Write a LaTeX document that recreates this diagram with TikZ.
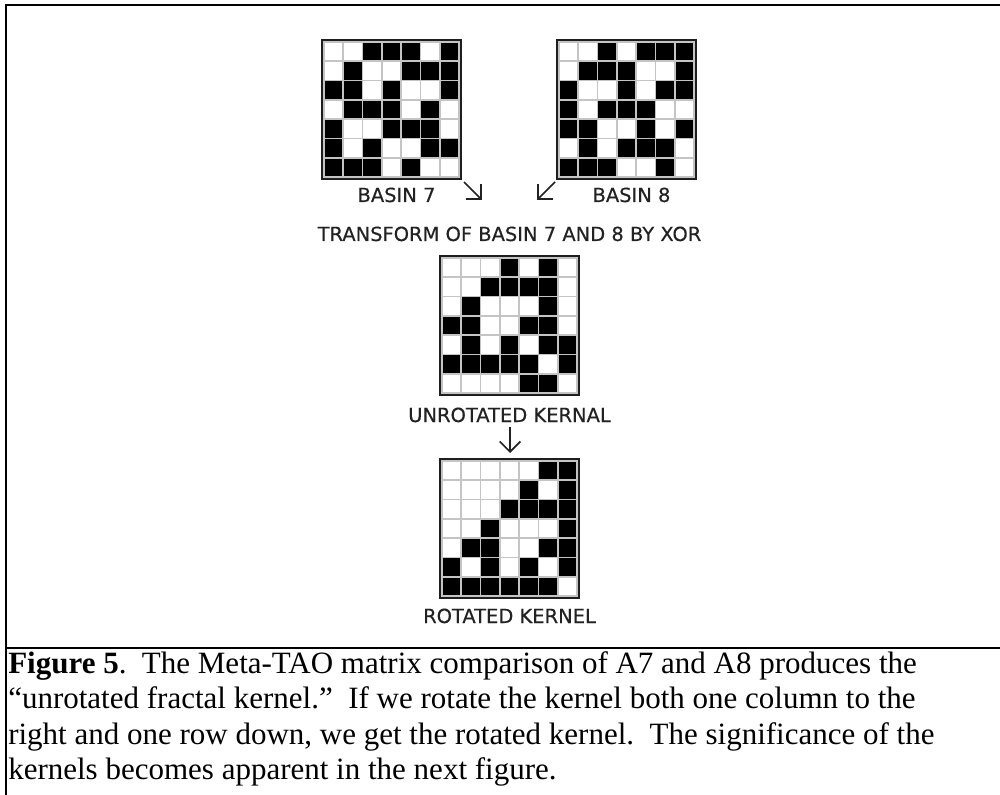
\documentclass[tikz,border=0pt]{standalone}
\usepackage{fontspec}
\setmainfont{Liberation Serif}
\newfontfamily\labelfont[FakeBold=0.4]{DejaVu Sans}
\usetikzlibrary{arrows.meta}
\definecolor{cellline}{HTML}{C4C4C4}
\definecolor{labelgray}{HTML}{222222}
\definecolor{framegray}{HTML}{1E1E1E}
\def\cellsz{19.2857}
\tikzset{
  thickrule/.style={line width=1.6pt},
  thinrule/.style={line width=0.9pt},
  gridline/.style={draw=cellline, line width=1.3pt},
  gridframe/.style={draw=framegray, line width=1.6pt},
  gridnode/.style={inner sep=0pt, minimum width=101.25pt, minimum height=101.25pt, anchor=north west},
  lbl/.style={font=\labelfont\fontsize{14.6}{17}\selectfont, text=labelgray, inner sep=0pt, anchor=base},
  captext/.style={font=\fontsize{23.25}{26.6}\selectfont, inner sep=0pt, anchor=base west},
  glypharrow/.style={line width=1.3pt, draw=labelgray, -{Straight Barb[angle=90:11pt, line width=1.3pt]}}
}
\newcommand\kgrid[3]{%
  \node[gridnode] (#1) at (#2) {};
  \begin{scope}[shift={(#2)}]
    \foreach \r [count=\i] in {#3} {
      \foreach \c [count=\j] in \r {
        \ifnum\c=1\relax
          \fill[black] ({(\j-1)*\cellsz},{(\i-1)*\cellsz}) rectangle ++(\cellsz,\cellsz);
        \fi
      }
    }
    \foreach \k in {1,...,6} {
      \draw[gridline] ({\k*\cellsz},0) -- ({\k*\cellsz},135);
      \draw[gridline] (0,{\k*\cellsz}) -- (135,{\k*\cellsz});
    }
    \draw[gridline] (0,0) rectangle (135,135);
    \draw[gridframe] (-1.6,-1.6) rectangle (136.6,136.6);
  \end{scope}
}
\begin{document}
\begin{tikzpicture}[x=0.75pt,y=-0.75pt]
\useasboundingbox (0,0) rectangle (1000,795);
\fill[white] (0,0) rectangle (1000,795);
% outer frame
\draw[thickrule] (6,795) -- (6,5) -- (296,5);
\draw[thinrule] (296,5) -- (723,5);
\draw[thickrule] (723,5) -- (1000,5);
\draw[thickrule] (6,648) -- (296,648);
\draw[thinrule] (296,648) -- (723,648);
\draw[thickrule] (723,648) -- (1000,648);
% grids
\kgrid{g7}{324,42}{{0,0,1,1,1,0,1},{0,1,0,0,1,1,1},{1,1,0,1,0,0,1},{0,1,1,1,0,1,0},{1,0,0,1,1,1,0},{1,0,1,0,0,1,1},{1,1,1,0,1,0,0}}
\kgrid{g8}{559,42}{{0,0,1,0,1,1,1},{0,1,1,1,0,0,1},{1,0,0,1,0,1,1},{1,0,1,1,1,0,0},{1,1,0,0,1,0,1},{0,1,0,1,1,1,0},{1,1,1,0,0,1,0}}
\kgrid{kx}{442,258}{{0,0,0,1,0,1,0},{0,0,1,1,1,1,0},{0,1,0,0,0,1,0},{1,1,0,0,1,1,0},{0,1,0,1,0,1,1},{1,1,1,1,1,0,1},{0,0,0,0,1,1,0}}
\kgrid{kr}{442,461}{{0,0,0,0,0,1,1},{0,0,0,0,1,0,1},{0,0,0,1,1,1,1},{0,0,1,0,0,0,1},{0,1,1,0,0,1,1},{1,0,1,0,1,0,1},{1,1,1,1,1,1,0}}
% labels
\node[lbl] (b7) at (396.5,202) {BASIN 7};
\node[lbl] (b8) at (631.5,202) {BASIN 8};
\node[lbl] (tr) at (509.5,241) {TRANSFORM OF BASIN 7 AND 8 BY XOR};
\node[lbl] (ur) at (509.5,422) {UNROTATED KERNAL};
\node[lbl] (ro) at (509.5,623) {ROTATED KERNEL};
% arrows
\coordinate (a7s) at (464,182);
\coordinate (a7e) at (482,200);
\coordinate (a8s) at (555,182);
\coordinate (a8e) at (537,200);
\coordinate (dns) at (510,427);
\coordinate (dne) at (510,453);
\draw[glypharrow] (a7s) -- (a7e);
\draw[glypharrow] (a8s) -- (a8e);
\draw[glypharrow] (dns) -- (dne);
% caption
\node[captext] (c1) at (8,673) {\textbf{Figure 5}.\hspace{0.5em}The Meta-TAO matrix comparison of A7 and A8 produces the};
\node[captext] (c2) at (8,708.5) {“unrotated fractal kernel.”\hspace{0.5em}If we rotate the kernel both one column to the};
\node[captext] (c3) at (8,744) {right and one row down, we get the rotated kernel.\hspace{0.5em}The significance of the};
\node[captext] (c4) at (8,779.5) {kernels becomes apparent in the next figure.};
\end{tikzpicture}
\end{document}
